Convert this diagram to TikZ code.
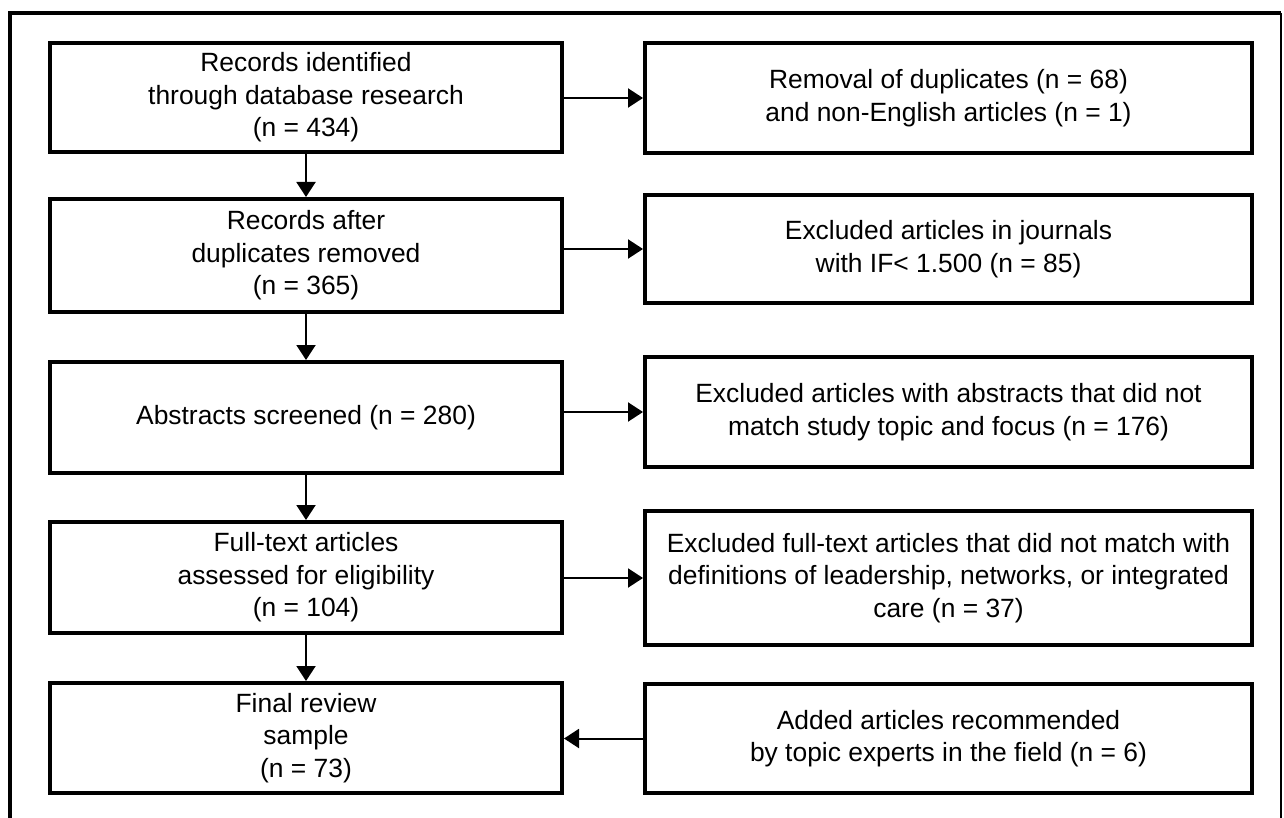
\documentclass[tikz,border=0pt]{standalone}
\usepackage{fontspec}
\setmainfont{Liberation Sans}
\usetikzlibrary{arrows.meta}
\begin{document}
\begin{tikzpicture}[x=0.5pt,y=-0.5pt,
  box/.style={draw=black, line width=2pt, fill=white, inner sep=0pt, align=center,
    font=\fontsize{13.2}{16.2}\selectfont, text=black},
  lbox/.style={box, minimum width=256pt},
  rbox/.style={box, minimum width=303.5pt},
  arr/.style={line width=1pt, -{Triangle[length=7.5pt,width=9.5pt]}},
  frame/.style={line width=1.7pt}]
\useasboundingbox (0,0) rectangle (1284,818);
\fill[white] (0,0) rectangle (1284,818);
\draw[frame] (10,818) -- (10,13) -- (1281,13);
\draw[line width=1pt] (1281,13) -- (1281,818);

\node[lbox, minimum height=54.5pt] (l1) at (306,97.5) {Records identified\\through database research\\(n = 434)};
\node[lbox, minimum height=56.5pt] (l2) at (306,255.5) {Records after\\duplicates removed\\(n = 365)};
\node[lbox, minimum height=55.5pt] (l3) at (306,417.5) {Abstracts screened (n = 280)};
\node[lbox, minimum height=55.5pt] (l4) at (306,577.5) {Full-text articles\\assessed for eligibility\\(n = 104)};
\node[lbox, minimum height=55pt] (l5) at (306,738) {Final review\\sample\\(n = 73)};

\node[rbox, minimum height=55pt] (r1) at (948.5,98) {Removal of duplicates (n = 68)\\and non-English articles (n = 1)};
\node[rbox, minimum height=54pt] (r2) at (948.5,249) {Excluded articles in journals\\with IF< 1.500 (n = 85)};
\node[rbox, minimum height=55pt] (r3) at (948.5,412) {Excluded articles with abstracts that did not\\match study topic and focus (n = 176)};
\node[rbox, minimum height=67pt] (r4) at (948.5,578) {Excluded full-text articles that did not match with\\definitions of leadership, networks, or integrated\\care (n = 37)};
\node[rbox, minimum height=54.5pt] (r5) at (948.5,738.5) {Added articles recommended\\by topic experts in the field (n = 6)};

\draw[arr] (l1.south) -- (l2.north);
\draw[arr] (l2.south) -- (l3.north);
\draw[arr] (l3.south) -- (l4.north);
\draw[arr] (l4.south) -- (l5.north);

\draw[arr] (l1.east |- r1.west) -- (r1.west);
\draw[arr] (l2.east |- r2.west) -- (r2.west);
\draw[arr] (l3.east |- r3.west) -- (r3.west);
\draw[arr] (l4.east |- r4.west) -- (r4.west);
\draw[arr] (r5.west) -- (l5.east |- r5.west);
\end{tikzpicture}
\end{document}
